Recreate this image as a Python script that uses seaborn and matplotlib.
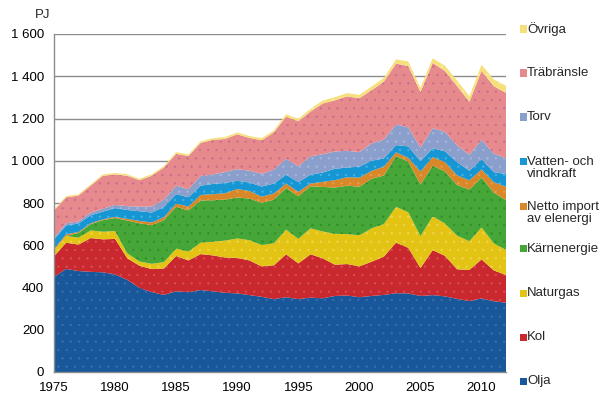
import numpy as np
import pandas as pd
import matplotlib
matplotlib.use("Agg")
import matplotlib.pyplot as plt
from matplotlib.patches import Rectangle
from matplotlib.ticker import FuncFormatter, MultipleLocator
import matplotlib.colors as mcolors
import seaborn as sns

###############################################################################
# Data (PJ)
###############################################################################
years = list(range(1975, 2013))

olja = [450, 488, 478, 474, 472, 462, 436, 398, 378, 365, 382, 378, 388, 382, 375, 372, 364, 356, 345,
        354, 345, 352, 349, 360, 362, 354, 360, 365, 373, 372, 360, 364, 358, 346, 336, 348, 335, 328]
kol = [98, 124, 125, 160, 156, 168, 102, 105, 109, 125, 167, 150, 170, 170, 167, 168, 164, 144, 160,
       203, 169, 205, 189, 148, 149, 146, 162, 181, 239, 216, 132, 213, 192, 140, 147, 185, 146, 131]
naturgas = [30, 32, 33, 36, 36, 37, 24, 20, 25, 30, 35, 42, 54, 65, 80, 92, 96, 101, 104,
            117, 116, 123, 127, 146, 142, 147, 158, 154, 170, 168, 151, 160, 153, 159, 136, 151, 128, 119]
karnenergi = [0, 0, 22, 30, 55, 62, 155, 181, 183, 199, 198, 195, 200, 196, 194, 194, 197, 200, 207,
              197, 202, 199, 211, 219, 229, 230, 235, 230, 240, 240, 245, 240, 246, 240, 245, 237, 240, 236]
netto_import = [5, 8, 5, 4, 4, 5, 8, 11, 13, 14, 15, 18, 26, 29, 30, 40, 36, 29, 29,
                21, 21, 13, 24, 35, 40, 43, 37, 42, 18, 18, 61, 40, 45, 46, 43, 38, 50, 63]
vatten_vind = [45, 42, 40, 38, 36, 42, 42, 46, 47, 48, 45, 44, 44, 48, 49, 39, 40, 48, 47,
               42, 46, 42, 44, 54, 46, 52, 48, 39, 34, 54, 49, 42, 51, 62, 46, 48, 47, 60]
torv = [8, 10, 10, 12, 14, 15, 18, 22, 28, 35, 40, 38, 46, 45, 52, 55, 56, 60, 66,
        75, 75, 87, 87, 82, 79, 69, 82, 89, 98, 90, 64, 95, 92, 80, 75, 92, 88, 76]
trabransle = [128, 123, 122, 128, 156, 144, 144, 125, 146, 152, 151, 157, 156, 164, 156, 165, 155, 159, 176,
              200, 213, 212, 240, 242, 258, 255, 252, 274, 288, 290, 263, 309, 288, 280, 251, 326, 319, 308]
ovriga = [6, 6, 6, 6, 7, 7, 7, 7, 7, 7, 8, 8, 8, 8, 9, 9, 9, 10, 10,
          11, 12, 13, 14, 15, 15, 16, 17, 18, 20, 22, 20, 22, 25, 27, 26, 30, 32, 34]

labels = ["Olja", "Kol", "Naturgas", "Kärnenergie", "Netto import\nav elenergi",
          "Vatten- och\nvindkraft", "Torv", "Träbränsle", "Övriga"]
colors = ["#18589A", "#C8282E", "#E3C414", "#46A738", "#D98829",
          "#1696D2", "#8A9FCB", "#E78A8D", "#F6E07C"]
dot_colors = ["#3C6FB0", "#D8505A", "#F0D650", "#2E8C2A", "#E8A050",
              "#4AB4E6", "#A8B8E0", "#C86C8E", "#FBEFA8"]

df = pd.DataFrame({"year": years, "Olja": olja, "Kol": kol, "Naturgas": naturgas,
                   "Kärnenergie": karnenergi, "Netto": netto_import, "Vatten": vatten_vind,
                   "Torv": torv, "Träbränsle": trabransle, "Övriga": ovriga})
series_cols = ["Olja", "Kol", "Naturgas", "Kärnenergie", "Netto", "Vatten", "Torv", "Träbränsle", "Övriga"]

###############################################################################
# Plot
###############################################################################
sns.set_theme(style="white")
plt.rcParams["font.family"] = ["Liberation Sans", "DejaVu Sans"]
plt.rcParams["hatch.linewidth"] = 0.4

fig = plt.figure(figsize=(6.07, 4.18), dpi=100)
ax = fig.add_axes([54 / 607, 46 / 418, 452 / 607, 338 / 418])

polys = ax.stackplot(df["year"], *[df[c] for c in series_cols], colors=colors, linewidth=0)
for p, dc in zip(polys, dot_colors):
    p.set_hatch("..")
    p.set_edgecolor(dc)
    p.set_linewidth(0)

ax.set_xlim(1975, 2012)
ax.set_ylim(0, 1600)
ax.yaxis.set_major_locator(MultipleLocator(200))
ax.yaxis.set_major_formatter(FuncFormatter(lambda v, p: f"{int(v):,}".replace(",", " ")))
ax.xaxis.set_major_locator(MultipleLocator(5))
ax.xaxis.set_minor_locator(MultipleLocator(1))

for v in range(200, 1601, 200):
    ax.axhline(v, color="#8C8C8C", lw=1.0, zorder=0.5)
ax.set_axisbelow(False)

for s in ["top", "right"]:
    ax.spines[s].set_visible(False)
for s in ["left", "bottom"]:
    ax.spines[s].set_color("#8C8C8C")
    ax.spines[s].set_linewidth(1.0)

ax.tick_params(axis="both", which="both", direction="out", color="#8C8C8C",
               labelsize=9.5, labelcolor="black", width=1)
ax.tick_params(axis="x", which="both", length=4, pad=3)
ax.tick_params(axis="y", length=4, pad=3)
ax.grid(False)

fig.text(35 / 607, 1 - 15 / 418, "PJ", fontsize=9.5, va="center", ha="left")

# legend, top = Övriga
leg_y = [29, 73, 117, 168, 213, 249, 293, 337, 381]
for lab, col, yy in zip(labels[::-1], colors[::-1], leg_y):
    nlines = lab.count("\n") + 1
    top_line = yy - (nlines - 1) * 7
    fig.add_artist(Rectangle((520 / 607, 1 - (top_line + 3.5) / 418), 7 / 607, 7 / 418,
                             transform=fig.transFigure, color=col, lw=0))
    fig.text(527 / 607, 1 - yy / 418, lab, fontsize=9.5, va="center", ha="left", linespacing=1.1)

plt.savefig("out.png", dpi=100)
